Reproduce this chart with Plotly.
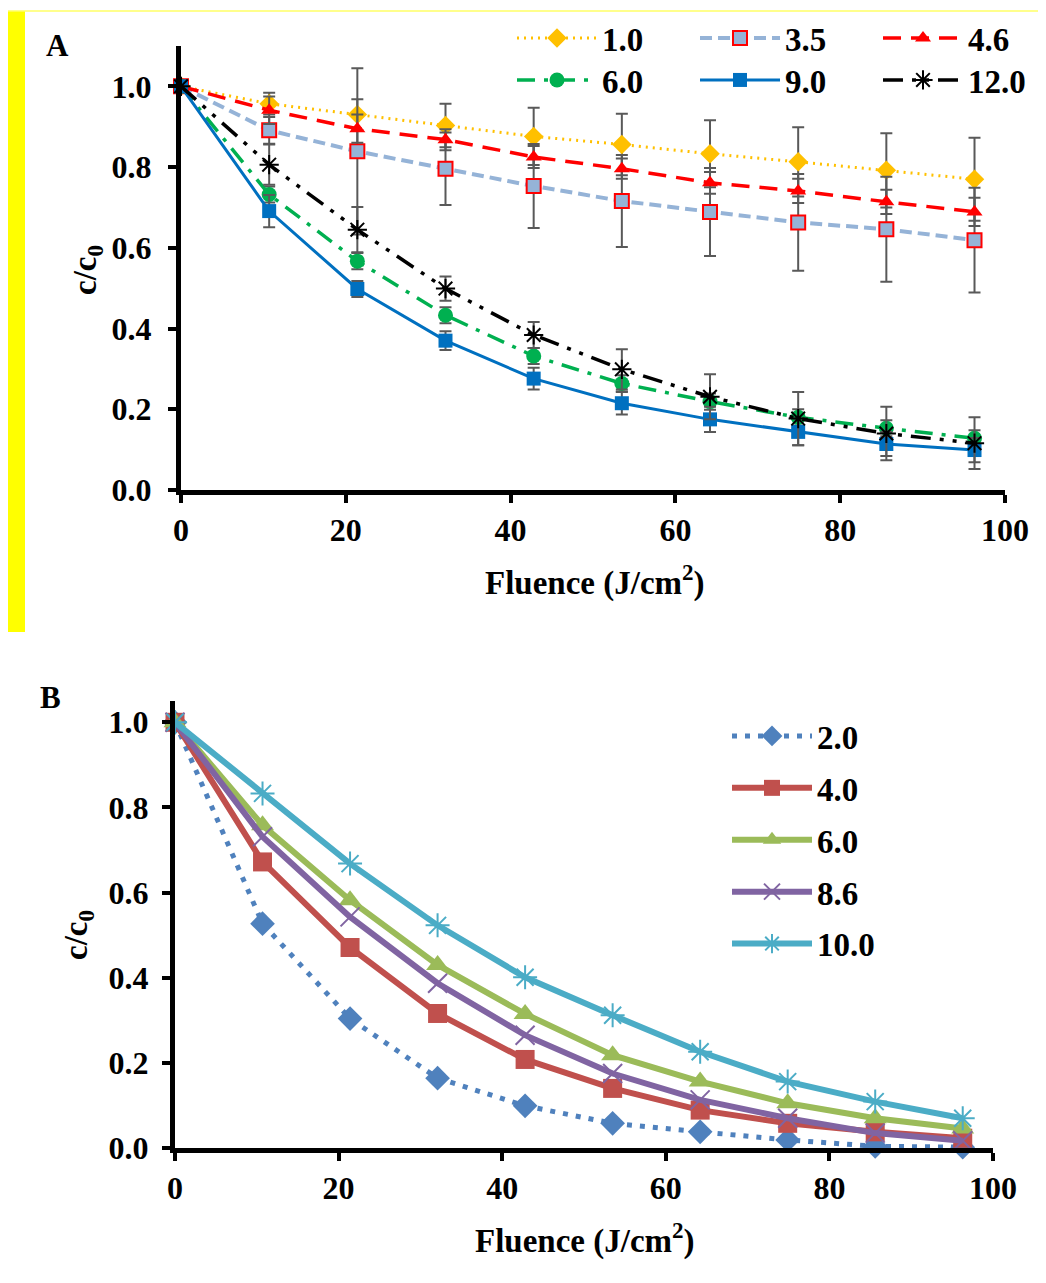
import plotly.graph_objects as go

W, H = 1046, 1283
# the page body has an 8px margin, so the figure is drawn 8px smaller and mapped back
OFF = 8
FW, FH = W - OFF, H - OFF

# ---- data ----
fluence = [0, 10.7, 21.4, 32.1, 42.8, 53.5, 64.2, 74.9, 85.6, 96.3]

# panel A : c/c0 with error bars
a_names = ["1.0", "3.5", "4.6", "6.0", "9.0", "12.0"]
c_10 = [1.0, 0.957, 0.930, 0.903, 0.876, 0.856, 0.833, 0.813, 0.792, 0.770]
e_10 = [0, 0.027, 0.038, 0.054, 0.071, 0.076, 0.083, 0.086, 0.092, 0.103]
c_35 = [1.0, 0.891, 0.839, 0.796, 0.753, 0.716, 0.689, 0.663, 0.646, 0.619]
e_35 = [0, 0.033, 0.206, 0.090, 0.104, 0.114, 0.109, 0.120, 0.130, 0.130]
c_46 = [1.0, 0.941, 0.895, 0.868, 0.825, 0.796, 0.761, 0.741, 0.714, 0.689]
e_46 = [0, 0.034, 0.035, 0.026, 0.027, 0.025, 0.027, 0.030, 0.030, 0.035]
c_60 = [1.0, 0.732, 0.567, 0.433, 0.332, 0.264, 0.219, 0.180, 0.153, 0.128]
e_60 = [0, 0.020, 0.020, 0.020, 0.020, 0.020, 0.020, 0.020, 0.020, 0.020]
c_90 = [1.0, 0.691, 0.498, 0.370, 0.276, 0.215, 0.175, 0.144, 0.114, 0.099]
e_90 = [0, 0.040, 0.020, 0.023, 0.027, 0.028, 0.031, 0.033, 0.030, 0.030]
c_120 = [1.0, 0.806, 0.645, 0.499, 0.384, 0.299, 0.231, 0.177, 0.140, 0.116]
e_120 = [0, 0.050, 0.056, 0.030, 0.032, 0.050, 0.056, 0.066, 0.066, 0.064]

# panel B
b_names = ["2.0", "4.0", "6.0", "8.6", "10.0"]
b_20 = [1.0, 0.527, 0.304, 0.164, 0.099, 0.058, 0.038, 0.019, 0.004, 0.002]
b_40 = [1.0, 0.672, 0.471, 0.316, 0.208, 0.140, 0.089, 0.058, 0.038, 0.023]
b_60 = [1.0, 0.758, 0.582, 0.430, 0.315, 0.218, 0.156, 0.105, 0.070, 0.046]
b_86 = [1.0, 0.731, 0.543, 0.387, 0.265, 0.175, 0.113, 0.070, 0.035, 0.017]
b_100 = [1.0, 0.833, 0.668, 0.523, 0.401, 0.312, 0.226, 0.156, 0.109, 0.070]

x_ticks = [0, 20, 40, 60, 80, 100]
y_ticks = [0, 0.2, 0.4, 0.6, 0.8, 1.0]

FONT = "Liberation Serif"

def px_x(p):
    return (p - OFF) / FW

def px_y(p):
    return (H - p) / FH

fig = go.Figure()

# ---- panel A traces ----
err_style = dict(type="data", color="#595959", thickness=2, width=6)
a_style = [
    (c_10, e_10, "#FFC000", "2px,5px", 3, dict(symbol="diamond", size=15, color="#FFC000"), "legend"),
    (c_35, e_35, "#95B3D7", "12px,6px", 4, dict(symbol="square", size=14, color="#95B3D7",
                                                line=dict(color="#FF0000", width=2)), "legend"),
    (c_46, e_46, "#FF0000", "18px,10px", 3.5, dict(symbol="triangle-up", size=14, color="#FF0000"), "legend"),
    (c_60, e_60, "#00B050", "18px,9px,4px,9px", 3.5, dict(symbol="circle", size=15, color="#00B050"), "legend2"),
    (c_90, e_90, "#0070C0", "solid", 3, dict(symbol="square", size=14, color="#0070C0"), "legend2"),
    (c_120, e_120, "#000000", "20px,9px,4px,9px,4px,9px", 3.5,
     dict(symbol="asterisk-open", size=16, color="#000000", line=dict(color="#000000", width=2)), "legend2"),
]
for name, (yv, ev, col, dash, lw, mk, lg) in zip(a_names, a_style):
    e = dict(err_style, array=ev)
    fig.add_trace(go.Scatter(x=fluence, y=yv, name=name, mode="lines+markers",
                             line=dict(color=col, dash=dash, width=lw), marker=mk,
                             error_y=e, cliponaxis=False, xaxis="x", yaxis="y", legend=lg))

# ---- panel B traces ----
b_style = [
    (b_20, "#4F81BD", "5px,8px", 5, dict(symbol="diamond", size=19, color="#4F81BD")),
    (b_40, "#C0504D", "solid", 6, dict(symbol="square", size=19, color="#C0504D")),
    (b_60, "#9BBB59", "solid", 6, dict(symbol="triangle-up", size=20, color="#9BBB59")),
    (b_86, "#8064A2", "solid", 6, dict(symbol="x-thin-open", size=19, color="#8064A2",
                                       line=dict(color="#8064A2", width=2))),
    (b_100, "#4BACC6", "solid", 6, dict(symbol="asterisk-open", size=20, color="#4BACC6",
                                        line=dict(color="#4BACC6", width=2))),
]
for name, (yv, col, dash, lw, mk) in zip(b_names, b_style):
    fig.add_trace(go.Scatter(x=fluence, y=yv, name=name, mode="lines+markers",
                             line=dict(color=col, dash=dash, width=lw), marker=mk,
                             cliponaxis=False, xaxis="x2", yaxis="y2", legend="legend3",
                             legendgroup=name))

tick_font = dict(family=FONT, size=32, color="black", weight="bold")
axis_common = dict(showline=True, linecolor="black", linewidth=5, ticks="outside",
                   ticklen=8, tickwidth=4, tickcolor="black", showgrid=False,
                   zeroline=False, tickfont=tick_font)

leg_font = dict(family=FONT, size=33, color="black", weight="bold")

fig.update_layout(
    width=FW, height=FH,
    margin=dict(l=0, r=0, t=0, b=0, autoexpand=False),
    paper_bgcolor="white", plot_bgcolor="white",
    showlegend=True,
    xaxis=dict(axis_common, domain=[px_x(181), px_x(1005)], range=[0, 100],
               tickvals=x_ticks, anchor="y"),
    yaxis=dict(axis_common, domain=[px_y(490), px_y(46)], range=[0, 1.1],
               tickvals=y_ticks, tickformat=".1f", anchor="x", ticklabelstandoff=10),
    xaxis2=dict(axis_common, domain=[px_x(175), px_x(993)], range=[0, 100],
                tickvals=x_ticks, anchor="y2"),
    yaxis2=dict(axis_common, domain=[px_y(1148), px_y(701)], range=[0, 1.05],
                tickvals=y_ticks, tickformat=".1f", anchor="x2", ticklabelstandoff=7),
    legend=dict(orientation="h", x=px_x(512), y=px_y(38), xanchor="left", yanchor="middle",
                bgcolor="rgba(0,0,0,0)", font=leg_font, itemwidth=80,
                entrywidth=88, entrywidthmode="pixels"),
    legend2=dict(orientation="h", x=px_x(512), y=px_y(80), xanchor="left", yanchor="middle",
                 bgcolor="rgba(0,0,0,0)", font=leg_font, itemwidth=80,
                 entrywidth=88, entrywidthmode="pixels"),
    legend3=dict(orientation="v", x=px_x(727), y=px_y(708), xanchor="left", yanchor="top",
                 bgcolor="rgba(0,0,0,0)", font=leg_font, itemwidth=80,
                 tracegroupgap=6, traceorder="grouped"),
)

title_font = dict(family=FONT, size=33, color="black", weight="bold")
annos = [
    dict(text="A", x=px_x(57), y=px_y(45), font=dict(family=FONT, size=31, color="black", weight="bold")),
    dict(text="B", x=px_x(50), y=px_y(697), font=dict(family=FONT, size=31, color="black", weight="bold")),
    dict(text="c/c<sub>0</sub>", x=px_x(88), y=px_y(270), textangle=-90, font=title_font),
    dict(text="c/c<sub>0</sub>", x=px_x(78), y=px_y(935), textangle=-90, font=title_font),
    dict(text="Fluence (J/cm<sup>2</sup>)", x=px_x(595), y=px_y(580), font=title_font),
    dict(text="Fluence (J/cm<sup>2</sup>)", x=px_x(585), y=px_y(1238), font=title_font),
]
for a in annos:
    fig.add_annotation(xref="paper", yref="paper", showarrow=False,
                       xanchor="center", yanchor="middle", **a)

# yellow selection frame around panel A
fig.add_shape(type="rect", xref="paper", yref="paper", x0=px_x(8), x1=px_x(25),
              y0=px_y(632), y1=px_y(11), fillcolor="#FFFF00", line=dict(width=0))
fig.add_shape(type="line", xref="paper", yref="paper", x0=px_x(8), x1=1,
              y0=px_y(11), y1=px_y(11), line=dict(color="#FFFF66", width=1.5))

fig.write_html("out.html")
